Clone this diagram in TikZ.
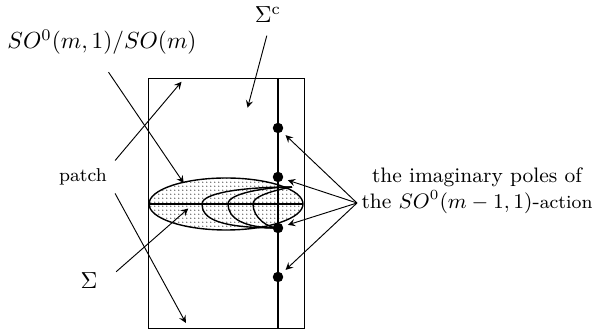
\documentclass[tikz,border=0pt]{standalone}
\usepackage{amsmath,amssymb}
\usepackage{tikz}
\usetikzlibrary{arrows.meta, positioning, calc, patterns}
\pgfdeclarepatternformonly{finedots}{\pgfpointorigin}{\pgfqpoint{1.5pt}{1.5pt}}{\pgfqpoint{1.5pt}{1.5pt}}{\pgfpathcircle{\pgfqpoint{0.4pt}{0.4pt}}{0.28pt}\pgfusepath{fill}}

\begin{document}
\begin{tikzpicture}[x=0.43pt,y=-0.43pt,>=stealth,
  pole/.style={circle,fill,inner sep=0pt,minimum size=4.5pt},
  arr/.style={->,shorten >=1pt}]
\useasboundingbox (0,0) rectangle (597,332);
% the strip
\draw (148,78) rectangle (304,328);
\draw[semithick,pattern=finedots] (226,204) ellipse (77 and 26);
\draw[semithick] (149,204) -- (303,204);
\draw[semithick] (278,78) -- (278,328);
\foreach \x in {202,228,253}
  \draw[semithick] (278,228) .. controls (\x+15,228) and (\x,218) .. (\x,204) .. controls (\x,193) and (\x+40,187) .. (292,187);
\node[pole] (p1) at (278,128) {};
\node[pole] (p2) at (278,177) {};
\node[pole] (p3) at (278,228) {};
\node[pole] (p4) at (278,277) {};
% labels
\node (so) at (102,42) {$SO^0(m,1)/SO(m)$};
\node (sigmac) at (268,15) {$\Sigma^{\mathrm c}$};
\node[font=\footnotesize] (patch) at (83,177) {patch};
\node (sigma) at (89,281) {$\Sigma$};
\node[align=center,font=\small] (poles) at (477,191) {the imaginary poles of\\the $SO^0(m-1,1)$-{\footnotesize action}};
% arrow targets
\coordinate (apex) at (357,203);
\coordinate (hyp) at (185,185);
\coordinate (comp) at (247,110);
\coordinate (ptop) at (183,80);
\coordinate (pbot) at (187,325);
\coordinate (slice) at (190,207);
\draw[arr,shorten <=5pt] (so.south) -- (hyp);
\draw[arr,shorten <=2pt] (sigmac.south) -- (comp);
\draw[arr] (patch.north east) -- (ptop);
\draw[arr] (patch.south east) -- (pbot);
\draw[arr,shorten <=6pt] (sigma.east) -- (slice);
\foreach \p in {p1,p2,p3,p4}
  \draw[arr,shorten >=2pt] (apex) -- (\p);
\end{tikzpicture}
\end{document}
